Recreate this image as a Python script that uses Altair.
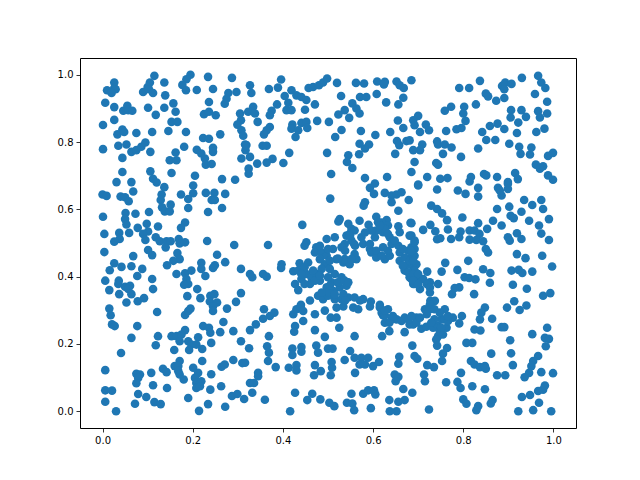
import altair as alt
import pandas as pd

# values in thousandths, by region
x_top_left = [26,26,10,29,20,115,105,100,90,103,112,137,139,195,186,177,185,209,234,245,287,279,297,275,271,236,6,26,55,46,57,66,101,137,157,162,118,225,236,251,26,1,153,166,146,185,44,33,48,75,110,223,236,261,305,307,299,308,312,1,35,53,64,75,86,95,106,181,209,219,227,229,242,245,245,162,149,164,44,316,317,308,44,106,153,205,112,120,31,64,265,294]
y_top_left = [977,961,954,957,946,997,977,964,949,957,946,977,939,1000,987,970,954,955,994,958,991,946,949,929,914,919,917,904,908,893,895,893,902,902,915,890,881,883,890,880,866,851,860,860,833,830,837,823,830,827,830,812,810,823,885,865,852,835,819,779,789,793,771,776,786,799,771,786,777,766,751,733,735,783,771,769,746,746,753,793,776,751,711,713,708,700,691,680,681,681,690,688]

x_top_mid = [327,330,369,389,396,404,419,430,441,452,412,408,419,449,471,387,375,371,334,323,338,344,421,419,434,428,441,452,454,476,502,371,364,358,530,516,355,364,319,327,377,364,343,414,401,498,545,542,554,507,324,324,457,467,480,489,498,520,562,580,609,626,624,652,659,668,529,571,585,608,629,667,656,554,537,523,547,563,570,573,605,638,655,667,570,591,582,569,653,674,658,649,582,604,631]
y_top_mid = [969,946,958,962,986,937,954,939,934,925,917,895,895,896,912,912,893,880,905,890,885,860,852,840,835,815,857,860,842,863,860,845,835,823,836,815,789,789,791,756,750,739,736,768,738,768,761,741,723,705,721,706,961,964,969,977,989,976,976,974,980,979,971,980,969,961,937,934,934,943,918,932,912,915,895,882,872,900,885,833,821,830,864,842,795,793,781,764,803,803,791,765,693,677,696]

x_top_right = [685,791,813,837,850,855,873,891,886,893,907,891,930,966,973,982,959,986,828,773,759,802,800,805,796,785,762,842,859,876,891,919,871,851,906,929,905,922,939,966,986,970,980,962,700,689,692,704,717,724,681,709,704,689,742,744,759,774,755,795,833,902,924,927,948,951,988,999,692,740,744,685,720,749,765,817,814,846,851,875,915,921,899,961,977,988,999,970,700]
y_top_right = [984,961,961,982,944,936,923,931,967,977,973,957,991,997,977,961,943,920,912,905,893,905,885,863,842,838,833,830,848,855,839,827,806,806,895,895,873,858,875,892,885,873,840,830,878,865,850,830,852,835,805,793,776,776,802,793,793,784,765,756,781,795,786,765,763,784,759,768,741,738,733,711,696,691,693,696,683,705,701,696,708,690,681,733,728,701,688,721,674]

x_mid_left = [0,9,40,50,58,68,137,201,201,190,174,190,131,129,132,138,149,151,229,248,242,249,272,234,265,103,73,51,50,53,1,98,123,78,59,37,38,26,4,101,90,95,118,127,142,151,140,183,174,169,171,183,232,292,4,101,110,68,166,171,157,143,254,272,249,245,219,219,228,26,16,42,64,88,77,110,112,164,183,197,186,190,181,6,36,35,15,37,50,61,57,64,78,92,188,210,217,239,248,238,254,307,307,296,53]
y_mid_left = [644,640,638,636,624,653,666,671,648,631,644,604,644,628,606,594,594,614,649,649,628,628,646,592,604,592,587,589,571,555,578,557,549,545,530,530,512,504,527,534,527,509,517,505,505,505,487,561,545,512,499,502,506,494,473,479,464,461,470,452,447,434,465,443,434,426,441,423,402,440,419,429,431,423,402,393,363,408,410,418,393,378,376,388,388,378,360,348,370,373,363,348,327,336,342,363,336,343,348,326,323,351,423,325,323]

x_mid_mid = [593,602,626,641,652,663,679,641,656,505,582,579,526,523,443,367,452,448,397,396,327,332,356,364,570,590,607,630,619,633,607,622,656,659,683,545,552,541,552,537,497,515,474,471,486,497,511,530,519,534,548,563,559,574,578,593,596,607,626,637,622,641,637,656,659,681,678,685,659,670,681,689,689,678,437,456,423,434,452,441,427,434,463,474,482,460,493,486,504,515,530,541,526,508,511,497,478,489,500,515,530,545,559,578,595,615,440]
y_mid_mid = [664,646,649,641,644,651,628,621,596,632,621,611,571,564,554,494,502,492,437,426,408,398,408,400,566,554,578,568,561,552,537,532,550,532,560,557,542,522,507,497,512,517,487,472,472,462,482,487,452,442,437,452,467,517,497,482,472,457,452,462,487,497,517,492,472,522,477,457,447,418,398,378,428,438,440,442,416,418,408,393,378,360,398,408,388,378,437,423,423,408,398,373,368,383,358,368,343,333,343,333,333,338,338,333,326,316,316]

x_mid_right = [700,742,788,805,833,833,877,885,899,881,899,935,953,973,977,875,902,929,905,912,866,885,946,968,990,973,990,729,742,753,764,798,833,685,711,727,738,766,794,791,773,742,749,814,825,836,853,814,829,844,850,855,899,903,919,929,919,938,975,997,760,811,787,752,720,844,860,803,813,827,859,907,923,931,953,910,941,977,993,791,781,775,824,744,726,726,727,737,692,692,696,692,696,685,692,685,692,704,711,913]
y_mid_right = [671,659,656,646,664,638,664,641,676,656,661,628,613,628,601,601,608,593,581,574,566,552,566,552,571,528,509,611,601,588,568,576,559,559,539,554,535,540,534,517,512,511,514,537,537,527,542,510,509,505,482,472,517,507,529,512,467,455,462,430,441,447,420,415,415,422,411,398,396,392,382,418,420,411,415,376,364,343,351,368,366,348,348,378,383,353,328,328,482,462,437,418,398,522,507,393,378,363,393,327]

x_low_left = [15,18,21,27,77,121,183,190,195,245,245,276,268,290,307,223,236,239,261,241,183,153,164,175,171,123,64,118,41,159,190,212,197,208,192,221,221,171,160,168,134,142,168,171,180,201,212,205,208,219,208,216,241,264,271,290,310,108,75,83,79,75,112,143,6,6,21,79,97,115,129,6,30,72,190,214,234,239,263,272,287,299,314]
y_low_left = [305,285,258,253,253,295,286,298,305,312,298,305,265,238,208,253,248,233,235,203,241,223,223,228,208,223,218,196,173,182,208,220,198,198,182,185,149,149,134,134,126,116,119,109,94,129,114,99,84,89,69,74,110,132,139,152,143,114,111,109,99,83,77,69,122,62,61,51,42,27,21,28,0,22,39,1,21,64,74,13,45,51,36]

x_low_mid = [327,340,358,356,371,381,423,430,439,445,445,427,425,471,471,493,506,519,525,559,620,636,519,534,556,567,593,615,633,622,626,641,652,670,670,681,619,369,365,369,367,384,325,316,345,345,327,336,332,360,421,441,421,441,474,478,500,510,549,537,559,574,589,570,582,600,613,560,413,430,430,471,484,469,508,509,506,658,656,648,656,650,667,670,656,636,652,637,427,465,454,483,503,514,542,552,554,558,595,578,589,602,605,416]
y_low_mid = [241,258,303,275,283,293,288,303,311,298,268,253,236,288,241,221,278,278,248,223,223,238,308,311,308,303,311,308,303,285,263,273,273,278,235,258,293,223,193,174,149,131,187,144,114,104,84,84,55,34,186,191,167,177,195,174,186,186,179,152,159,159,159,139,139,134,146,114,129,137,121,137,119,107,146,129,107,162,141,109,102,89,66,33,28,33,0,0,55,52,33,35,25,15,25,52,23,3,9,52,62,62,50,0]

x_low_right = [848,840,897,925,940,864,837,797,777,791,885,891,986,953,981,990,983,904,825,838,807,820,862,906,910,966,955,951,946,936,973,999,875,893,817,825,837,848,850,795,787,794,820,848,762,713,715,687,724,800,807,833,829,865,861,930,948,966,977,981,968,922,955,995,764,755,753,720,735,687,692,698,689,696,715,726,726,707,718,733,744,752,759,748,763,755,744,740,742,696]
y_low_right = [308,293,308,301,314,275,273,283,278,261,250,250,248,229,218,215,193,211,243,240,203,203,171,172,137,164,149,134,114,101,116,113,107,107,149,139,131,134,126,114,87,69,74,65,86,109,89,55,5,35,22,15,3,33,23,42,48,60,64,76,25,0,3,0,188,171,149,137,131,195,164,156,258,278,303,317,303,245,251,248,253,273,303,293,248,228,223,213,195,263]

# the dense ring in the middle of the picture
x_ring = [548,559,558,611,626,604,633,596,482,482,500,504,537,552,448,467,441,471,448,482,500,522,537,545,500,515,534,486,593,607,619,633,648,666,670,681,666,678,689,685,692,626,636,644,663,678,685,704,719,736,736,759,729,748,751,766,766,689,685,689,700,689,700,719,726,549,538,560,522,582,615,460,493,538,571,626,504]
y_ring = [527,537,497,562,542,517,527,537,492,452,482,447,452,452,428,418,408,388,378,403,398,383,388,383,353,348,348,353,497,477,462,477,507,482,457,447,432,413,398,487,502,285,263,283,268,273,283,278,288,303,273,273,263,238,248,268,283,447,476,408,408,388,378,378,368,522,477,492,454,531,552,329,299,329,329,299,373]

tick_values = [0.0, 0.2, 0.4, 0.6, 0.8, 1.0]

all_x = (x_top_left + x_top_mid + x_top_right + x_mid_left + x_mid_mid + x_mid_right
         + x_low_left + x_low_mid + x_low_right + x_ring)
all_y = (y_top_left + y_top_mid + y_top_right + y_mid_left + y_mid_mid + y_mid_right
         + y_low_left + y_low_mid + y_low_right + y_ring)
n = min(len(all_x), len(all_y))
print(len(all_x), len(all_y))
df = pd.DataFrame({"x": [v / 1000 for v in all_x[:n]], "y": [v / 1000 for v in all_y[:n]]})


def axis():
    return alt.Axis(title=None, values=tick_values, format=".1f", grid=False,
                    domain=False, tickColor="black", tickSize=4, tickWidth=0.8,
                    labelColor="black", labelFont="DejaVu Sans", labelFontSize=10,
                    labelPadding=3, labelFlush=False, labelOverlap=False)


chart = (
    alt.Chart(df)
    .mark_point(filled=True, opacity=1, color="#1f77b4", size=74, strokeWidth=0)
    .encode(
        x=alt.X("x:Q", scale=alt.Scale(domain=[-0.05, 1.05], nice=False, zero=False), axis=axis()),
        y=alt.Y("y:Q", scale=alt.Scale(domain=[-0.05, 1.05], nice=False, zero=False), axis=axis()),
    )
    .properties(width=496, height=370,
                padding={"left": 72, "top": 50, "right": 56, "bottom": 45},
                autosize=alt.AutoSizeParams(type="none"))
    .configure_view(stroke="black", strokeWidth=1)
)

chart.save("out.html", embed_options={"renderer": "svg", "actions": False})
